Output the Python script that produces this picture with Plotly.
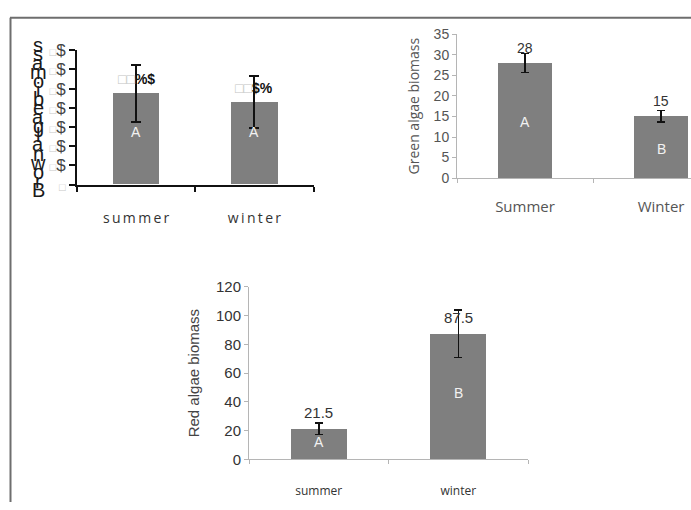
import plotly.graph_objects as go

W, H = 691, 510

# ---------------- data ----------------
brown_cats = ["summer", "winter"]
brown_vals = [47.5, 43.0]
brown_err = [15.0, 13.5]
brown_value_labels = ["<span style='color:#c4c4c4'>□□</span><b>%$</b>",
                      "<span style='color:#c4c4c4'>□□</span><b>$%</b>"]
brown_letters = ["A", "A"]
brown_tickvals = [0, 10, 20, 30, 40, 50, 60, 70]
brown_ticktext = ["<span style='color:#c8c8c8;font-size:11px'>□</span>"] + \
                 ["<span style='color:#c8c8c8;font-size:11px'>□</span>$"] * 7
brown_title = "Brown algae biomass"

green_cats = ["Summer", "Winter"]
green_vals = [28, 15]
green_err = [2.3, 1.4]
green_letters = ["A", "B"]
green_tickvals = [0, 5, 10, 15, 20, 25, 30, 35]

red_cats = ["summer", "winter"]
red_vals = [21.5, 87.5]
red_err = [4.0, 16.5]
red_letters = ["A", "B"]
red_tickvals = [0, 20, 40, 60, 80, 100, 120]


def px(x):
    return x / W


def py(y):
    return 1 - y / H


BAR = "#7f7f7f"
fig = go.Figure()

fig.add_trace(go.Bar(x=brown_cats, y=brown_vals, width=0.39, marker_color=BAR,
                     marker_line_width=0,
                     error_y=dict(type="data", array=brown_err, color="#111",
                                  thickness=2, width=5),
                     xaxis="x", yaxis="y", showlegend=False, hoverinfo="skip"))
fig.add_trace(go.Bar(x=green_cats, y=green_vals, width=0.40, marker_color=BAR,
                     marker_line_width=0,
                     error_y=dict(type="data", array=green_err, color="#111",
                                  thickness=1.5, width=4),
                     xaxis="x2", yaxis="y2", showlegend=False, hoverinfo="skip"))
fig.add_trace(go.Bar(x=red_cats, y=red_vals, width=0.40, marker_color=BAR,
                     marker_line_width=0,
                     error_y=dict(type="data", array=red_err, color="#111",
                                  thickness=1.5, width=4),
                     xaxis="x3", yaxis="y3", showlegend=False, hoverinfo="skip"))

SANS = "Liberation Sans, Arial, sans-serif"
HUM = "Open Sans, sans-serif"

spaced = ["\u2009".join(c) for c in brown_cats]

layout = dict(
    width=W, height=H, margin=dict(l=0, r=0, t=0, b=0),
    paper_bgcolor="white", plot_bgcolor="white", bargap=0,
    # top-left panel
    xaxis=dict(domain=[px(77), px(313.6)], range=[-0.5, 1.5], anchor="y",
               showline=True, linecolor="#111", linewidth=2,
               ticks="outside", tickson="boundaries", ticklen=5, tickcolor="#111",
               tickwidth=1.5, ticklabelstandoff=20,
               tickvals=brown_cats, ticktext=spaced,
               tickfont=dict(family=HUM, size=14, color="#333"),
               showgrid=False, zeroline=False),
    yaxis=dict(domain=[py(181.7), py(42.7)], range=[0, 70], anchor="x",
               showline=True, linecolor="#111", linewidth=2,
               ticks="outside", ticklen=6, tickcolor="#111", tickwidth=2,
               tickvals=brown_tickvals, ticktext=brown_ticktext,
               tickfont=dict(family=SANS, size=17, color="#444"),
               showgrid=False, zeroline=False),
    # top-right panel
    xaxis2=dict(domain=[px(457), 1], range=[-0.5, 1.22], anchor="y2",
                showline=True, linecolor="#b5b5b5", linewidth=1,
                ticks="outside", tickson="boundaries", ticklen=4,
                tickcolor="#b5b5b5", ticklabelstandoff=15,
                tickfont=dict(family=HUM, size=15, color="#555"),
                showgrid=False, zeroline=False),
    yaxis2=dict(domain=[py(175), py(26)], range=[0, 35], anchor="x2",
                showline=True, linecolor="#b5b5b5", linewidth=1,
                ticks="outside", ticklen=4, tickcolor="#b5b5b5",
                tickvals=green_tickvals,
                tickfont=dict(family=SANS, size=14, color="#555"),
                title=dict(text="Green algae biomass", standoff=10,
                           font=dict(family=HUM, size=14, color="#555")),
                showgrid=False, zeroline=False),
    # bottom panel
    xaxis3=dict(domain=[px(249), px(528)], range=[-0.5, 1.5], anchor="y3",
                showline=True, linecolor="#b5b5b5", linewidth=1,
                ticks="outside", tickson="boundaries", ticklen=4,
                tickcolor="#b5b5b5", ticklabelstandoff=20,
                tickfont=dict(family=HUM, size=12, color="#333"),
                showgrid=False, zeroline=False),
    yaxis3=dict(domain=[py(466), py(287.3)], range=[0, 120], anchor="x3",
                showline=True, linecolor="#b5b5b5", linewidth=1,
                ticks="outside", ticklen=4, tickcolor="#b5b5b5",
                tickvals=red_tickvals,
                tickfont=dict(family=SANS, size=15, color="#333"),
                title=dict(text="Red algae biomass", standoff=12,
                           font=dict(family=SANS, size=15, color="#444")),
                showgrid=False, zeroline=False),
)
fig.update_layout(**layout)

ann = []
# value labels above bars
for c, v, t in zip(brown_cats, brown_vals, brown_value_labels):
    ann.append(dict(x=c, y=v, xref="x", yref="y", text=t, showarrow=False,
                    yshift=14, font=dict(family=SANS, size=14, color="#111")))
for c, v in zip(green_cats, green_vals):
    ann.append(dict(x=c, y=v, xref="x2", yref="y2", text=f"{v:g}", showarrow=False,
                    yshift=15, font=dict(family=SANS, size=14, color="#333")))
for c, v in zip(red_cats, red_vals):
    ann.append(dict(x=c, y=v, xref="x3", yref="y3", text=f"{v:g}", showarrow=False,
                    yshift=16, font=dict(family=SANS, size=15, color="#333")))

# letters inside bars (label placement as fraction of the axis range)
for c, l in zip(brown_cats, brown_letters):
    ann.append(dict(x=c, y=0.317, xref="x", yref="y domain", text=l, showarrow=False,
                    font=dict(family=SANS, size=14, color="#f2f2f2")))
for c, l, f in zip(green_cats, green_letters, [0.39, 0.13]):
    ann.append(dict(x=c, y=f, xref="x2", yref="y2 domain", text=l, showarrow=False,
                    font=dict(family=SANS, size=14, color="#f2f2f2")))
for c, l, f in zip(red_cats, red_letters, [0.043, 0.387]):
    ann.append(dict(x=c, y=f, xref="x3", yref="y3 domain", text=l, showarrow=False,
                    font=dict(family=SANS, size=14, color="#f2f2f2")))

# garbled stacked y title of the top-left panel
chars = [ch for ch in brown_title if ch != " "]
n = len(chars)
y_bottom, y_top = 187, 37
for i, ch in enumerate(chars):
    yy = y_bottom - (y_bottom - y_top) * i / (n - 1)
    ann.append(dict(x=px(38), y=py(yy), xref="paper", yref="paper", text=ch,
                    showarrow=False, xanchor="center", yanchor="middle",
                    font=dict(family=SANS, size=20, color="#1a1a1a")))

fig.update_layout(annotations=ann)

# outer frame (top and left edges)
fig.add_shape(type="line", xref="paper", yref="paper",
              x0=px(10), x1=1, y0=py(9), y1=py(9),
              line=dict(color="#6e6e6e", width=2))
fig.add_shape(type="line", xref="paper", yref="paper",
              x0=px(10.5), x1=px(10.5), y0=py(9), y1=0,
              line=dict(color="#6e6e6e", width=2))

fig.write_html(
    "out.html",
    config={"displayModeBar": False},
    post_script="document.body.style.margin='0';"
                "document.documentElement.style.overflow='hidden';",
)
